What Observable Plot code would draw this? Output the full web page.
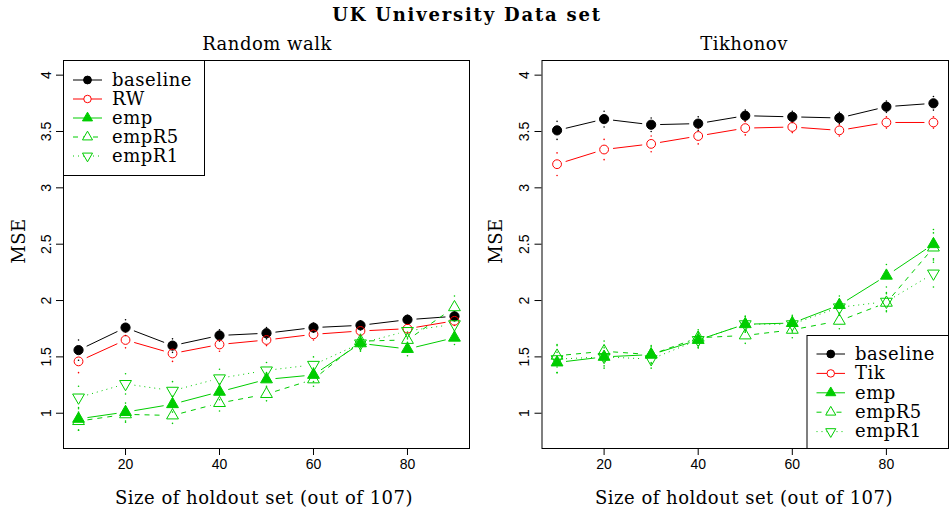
<!DOCTYPE html>
<html>
<head>
<meta charset="utf-8">
<script src="https://cdn.jsdelivr.net/npm/d3@7"></script>
<script src="https://cdn.jsdelivr.net/npm/@observablehq/plot@0.6"></script>
<style>
  body { margin: 0; background: #fff; }
  #wrap { position: relative; width: 950px; height: 513px; overflow: hidden; }
  .panel { position: absolute; top: 0; }
  .t { position: absolute; font-family: "DejaVu Serif", serif; color: #000; white-space: nowrap; transform: translate(-50%, -50%); font-size: 18px; letter-spacing: 0.5px; }
  .rot { transform: translate(-50%, -50%) rotate(-90deg); }
</style>
</head>
<body>
<div id="wrap">
  <div id="left" class="panel" style="left:0"></div>
  <div id="right" class="panel" style="left:475px"></div>
  <svg id="legend" width="950" height="513" style="position:absolute;left:0;top:0"></svg>
  <div class="t" style="left:467px;top:14px;font-size:18px;font-weight:bold;letter-spacing:1.8px">UK University Data set</div>
  <div class="t" style="left:267px;top:43px">Random walk</div>
  <div class="t" style="left:744px;top:43px">Tikhonov</div>
  <div class="t rot" style="left:18px;top:241px">MSE</div>
  <div class="t rot" style="left:495px;top:241px">MSE</div>
  <div class="t" style="left:264px;top:497px">Size of holdout set (out of 107)</div>
  <div class="t" style="left:744px;top:497px">Size of holdout set (out of 107)</div>
</div>
<script>
// ---- data ----
const holdout = [10, 20, 30, 40, 50, 60, 70, 80, 90];
const yTicks = [1, 1.5, 2, 2.5, 3, 3.5, 4];
const xTicks = [20, 40, 60, 80];

// Random walk panel
const rwBaseline = [1.56, 1.76, 1.60, 1.69, 1.71, 1.76, 1.78, 1.83, 1.86];
const rwRW       = [1.46, 1.65, 1.53, 1.61, 1.65, 1.70, 1.73, 1.75, 1.82];
const rwEmp      = [0.95, 1.01, 1.08, 1.19, 1.30, 1.34, 1.62, 1.57, 1.67];
const rwEmpR5    = [0.93, 0.99, 0.98, 1.09, 1.17, 1.30, 1.64, 1.65, 1.94];
const rwEmpR1    = [1.14, 1.26, 1.20, 1.31, 1.38, 1.43, 1.62, 1.73, 1.79];
const rwBaselineErr = [0.09, 0.07, 0.06, 0.05, 0.05, 0.04, 0.04, 0.04, 0.04];
const rwRWErr       = [0.10, 0.07, 0.07, 0.06, 0.05, 0.05, 0.04, 0.04, 0.04];
const rwEmpErr      = [0.10, 0.08, 0.07, 0.07, 0.06, 0.06, 0.06, 0.06, 0.06];
const rwEmpR5Err    = [0.08, 0.07, 0.07, 0.07, 0.06, 0.06, 0.06, 0.07, 0.10];
const rwEmpR1Err    = [0.10, 0.09, 0.08, 0.08, 0.07, 0.07, 0.07, 0.07, 0.08];

// Tikhonov panel
const tkBaseline = [3.51, 3.61, 3.56, 3.57, 3.64, 3.63, 3.62, 3.72, 3.75];
const tkTik      = [3.21, 3.34, 3.39, 3.46, 3.53, 3.54, 3.51, 3.58, 3.58];
const tkEmp      = [1.45, 1.50, 1.52, 1.65, 1.79, 1.80, 1.96, 2.22, 2.50];
const tkEmpR5    = [1.51, 1.55, 1.52, 1.67, 1.69, 1.74, 1.82, 1.98, 2.47];
const tkEmpR1    = [1.48, 1.50, 1.48, 1.65, 1.79, 1.79, 1.94, 1.99, 2.24];
const tkBaselineErr = [0.08, 0.07, 0.06, 0.06, 0.05, 0.05, 0.05, 0.05, 0.06];
const tkTikErr      = [0.10, 0.09, 0.07, 0.07, 0.06, 0.05, 0.05, 0.05, 0.05];
const tkEmpErr      = [0.09, 0.08, 0.07, 0.07, 0.07, 0.07, 0.08, 0.10, 0.13];
const tkEmpR5Err    = [0.10, 0.09, 0.08, 0.07, 0.07, 0.07, 0.07, 0.08, 0.13];
const tkEmpR1Err    = [0.12, 0.10, 0.08, 0.07, 0.07, 0.07, 0.07, 0.08, 0.12];

// ---- styles ----
const GREEN = "#00cd00";
const triDown = {
  draw(context, size) {
    const y = -Math.sqrt(size / (Math.sqrt(3) * 3));
    context.moveTo(0, -y * 2);
    context.lineTo(-Math.sqrt(3) * y, y);
    context.lineTo(Math.sqrt(3) * y, y);
    context.closePath();
  }
};
const triUp = {
  draw(context, size) {
    const y = -Math.sqrt(size / (Math.sqrt(3) * 3));
    context.moveTo(0, y * 2);
    context.lineTo(-Math.sqrt(3) * y, -y);
    context.lineTo(Math.sqrt(3) * y, -y);
    context.closePath();
  }
};
const styles = {
  baseline: {color: "#000", dash: null, symbol: "circle", filled: true, r: 4.6},
  method:   {color: "#ff0000", dash: null, symbol: "circle", filled: false, r: 4.4},
  emp:      {color: GREEN, dash: null, symbol: triUp, filled: true, r: 4.4},
  empR5:    {color: GREEN, dash: "5,5", symbol: triUp, filled: false, r: 4.4},
  empR1:    {color: GREEN, dash: "1,4", symbol: triDown, filled: false, r: 4.4}
};

const W = 475, H = 513, MT = 60, MB = 65;
const xDomain = [6.8, 93.2], yDomain = [0.687, 4.13];
const GAP = 9; // px gap between line ends and point centres (R type = "b")

function rows(values, err) {
  return holdout.map((x, i) => ({x, y: values[i], lo: values[i] - err[i], hi: values[i] + err[i]}));
}

// line segments shortened around points, computed through Plot's own scales
function segments(data, sx, sy) {
  const out = [];
  for (let i = 0; i < data.length - 1; i++) {
    const a = data[i], b = data[i + 1];
    const ax = sx.apply(a.x), ay = sy.apply(a.y), bx = sx.apply(b.x), by = sy.apply(b.y);
    const d = Math.hypot(bx - ax, by - ay);
    if (d <= 2 * GAP) continue;
    const t = GAP / d;
    out.push({
      x1: sx.invert(ax + (bx - ax) * t), y1: sy.invert(ay + (by - ay) * t),
      x2: sx.invert(bx - (bx - ax) * t), y2: sy.invert(by - (by - ay) * t)
    });
  }
  return out;
}

function panel(el, series, marginLeft, marginRight) {
  const sx = Plot.scale({x: {domain: xDomain, range: [marginLeft, W - marginRight]}});
  const sy = Plot.scale({y: {domain: yDomain, range: [H - MB, MT]}});
  const marks = [];
  for (const s of series) {
    const st = styles[s.style];
    const data = rows(s.values, s.err);
    marks.push(Plot.link(segments(data, sx, sy), {x1: "x1", y1: "y1", x2: "x2", y2: "y2", stroke: st.color, strokeWidth: 1, strokeDasharray: st.dash || undefined}));
    marks.push(Plot.dot(data, {x: "x", y: "hi", r: 0.8, fill: st.color, stroke: "none"}));
    marks.push(Plot.dot(data, {x: "x", y: "lo", r: 0.8, fill: st.color, stroke: "none"}));
  }
  for (const s of series) {
    const st = styles[s.style];
    const data = rows(s.values, s.err);
    marks.push(Plot.dot(data, {
      x: "x", y: "y", symbol: st.symbol, r: st.r,
      fill: st.filled ? st.color : "none",
      stroke: st.color, strokeWidth: 1
    }));
  }
  const chart = Plot.plot({
    width: W,
    height: H,
    marginTop: MT,
    marginBottom: MB,
    marginLeft,
    marginRight,
    style: {fontFamily: "Liberation Sans, Arial, sans-serif", fontSize: "14px", background: "transparent", overflow: "visible"},
    x: {domain: xDomain},
    y: {domain: yDomain},
    marks: [
      ...marks,
      Plot.frame({stroke: "#000", strokeWidth: 1}),
      Plot.axisX({ticks: xTicks, tickSize: 7, tickPadding: 4, label: null, stroke: "#000"}),
      Plot.axisY({ticks: yTicks, tickSize: 7, tickPadding: 6, tickRotate: -90, label: null, tickFormat: d => String(d), stroke: "#000"})
    ]
  });
  el.appendChild(chart);
}

panel(document.getElementById("left"), [
  {style: "baseline", values: rwBaseline, err: rwBaselineErr},
  {style: "method", values: rwRW, err: rwRWErr},
  {style: "emp", values: rwEmp, err: rwEmpErr},
  {style: "empR5", values: rwEmpR5, err: rwEmpR5Err},
  {style: "empR1", values: rwEmpR1, err: rwEmpR1Err}
], 63, 6);

panel(document.getElementById("right"), [
  {style: "baseline", values: tkBaseline, err: tkBaselineErr},
  {style: "method", values: tkTik, err: tkTikErr},
  {style: "emp", values: tkEmp, err: tkEmpErr},
  {style: "empR5", values: tkEmpR5, err: tkEmpR5Err},
  {style: "empR1", values: tkEmpR1, err: tkEmpR1Err}
], 66.5, 2);

// ---- legends ----
const legendLeft = ["baseline", "RW", "emp", "empR5", "empR1"];
const legendRight = ["baseline", "Tik", "emp", "empR5", "empR1"];
const legendStyles = ["baseline", "method", "emp", "empR5", "empR1"];

function legend(svg, labels, box, y0, step, lineX0, lineX1, textX) {
  const g = svg.append("g");
  g.append("rect").attr("x", box[0] + 0.5).attr("y", box[1] + 0.5)
    .attr("width", box[2] - box[0]).attr("height", box[3] - box[1])
    .attr("fill", "#fff").attr("stroke", "#000").attr("stroke-width", 1);
  labels.forEach((lab, i) => {
    const st = styles[legendStyles[i]];
    const y = y0 + i * step;
    g.append("line").attr("x1", lineX0).attr("x2", lineX1).attr("y1", y).attr("y2", y)
      .attr("stroke", st.color).attr("stroke-width", 1)
      .attr("stroke-dasharray", st.dash || null);
    const sym = st.symbol === "circle" ? d3.symbolCircle : st.symbol;
    const rr = st.r * 0.85;
    g.append("path").attr("d", d3.symbol(sym, Math.PI * rr * rr)())
      .attr("transform", `translate(${(lineX0 + lineX1) / 2},${y})`)
      .attr("fill", st.filled ? st.color : "#fff").attr("stroke", st.color).attr("stroke-width", 1);
    g.append("text").attr("x", textX).attr("y", y).attr("dy", "0.32em")
      .attr("font-family", "DejaVu Serif, serif").attr("font-size", 18)
      .attr("letter-spacing", "0.5px")
      .text(lab);
  });
}
const lsvg = d3.select("#legend");
legend(lsvg, legendLeft, [63, 60, 204, 175], 80, 19, 73, 102, 112);
legend(lsvg, legendRight, [806.5, 335, 948, 448], 354, 19.4, 816.5, 845, 855);
</script>
</body>
</html>
